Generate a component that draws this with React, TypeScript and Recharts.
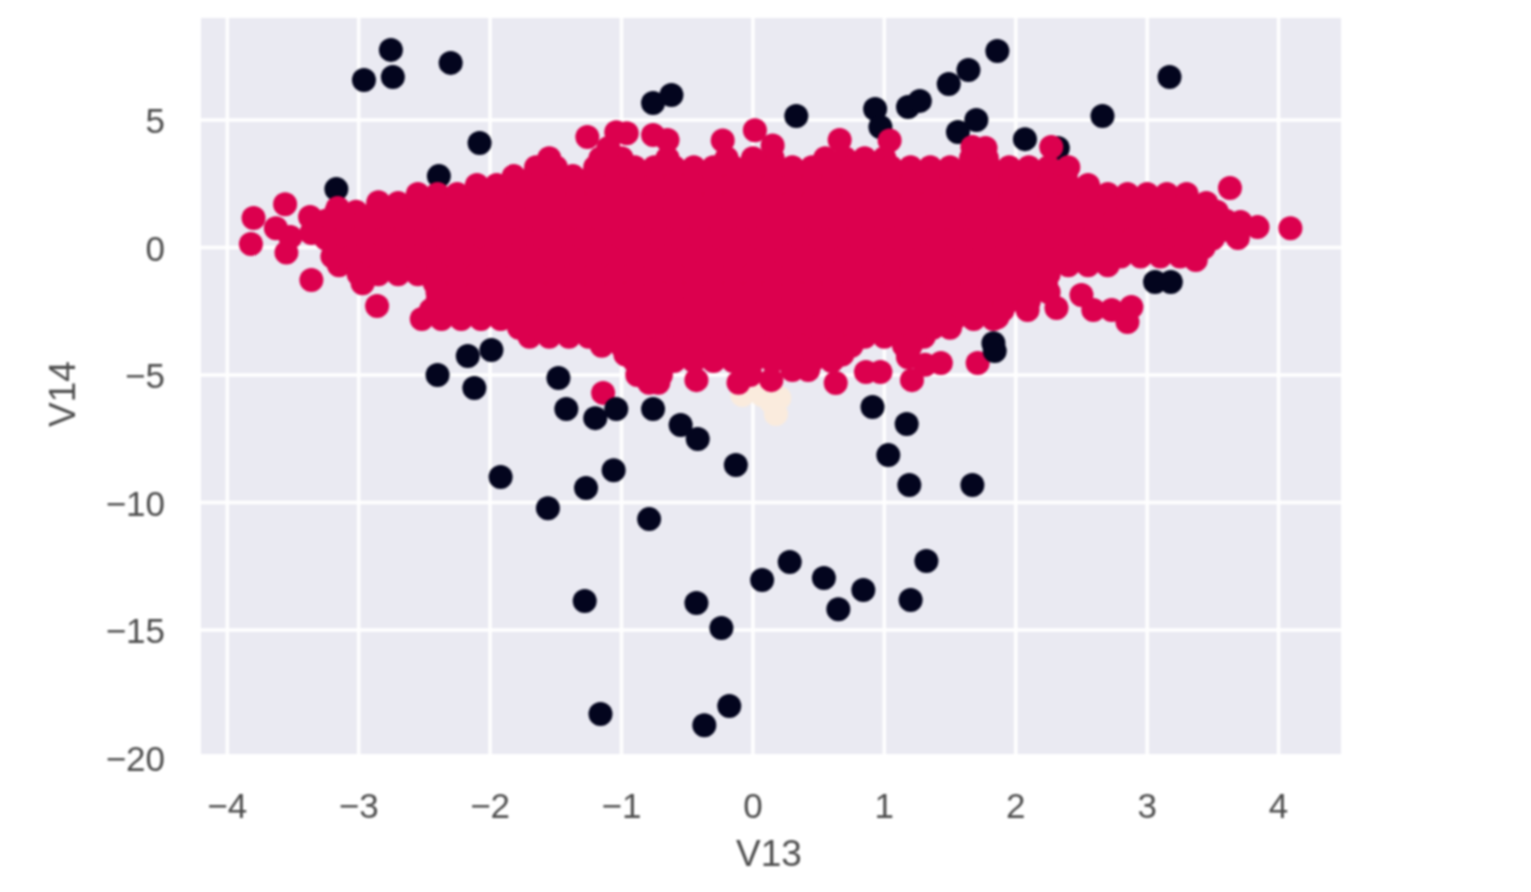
import { ScatterChart, Scatter, XAxis, YAxis, CartesianGrid } from 'recharts';

const xTicks = [-4, -3, -2, -1, 0, 1, 2, 3, 4];
const yTicks = [-20, -15, -10, -5, 0, 5];
const yGridValues = [-15, -10, -5, 0, 5];

const fraudEarly = [
  [-2.755, 7.75], [-2.96, 6.57], [-2.74, 6.69], [-2.3, 7.24], [-0.76, 5.67], [-0.62, 5.98], [0.33, 5.16],
  [0.93, 5.43], [0.97, 4.73], [1.18, 5.51], [1.27, 5.75], [1.49, 6.41], [1.64, 6.96], [1.86, 7.71],
  [3.17, 6.69], [1.56, 4.53], [1.7, 5.0], [2.07, 4.25], [2.32, 3.9], [2.66, 5.16], [-2.08, 4.1],
  [-3.17, 2.29], [-2.39, 2.8], [3.06, -1.35], [3.18, -1.35],
];

const fraudLate = [
  [1.83, -3.75], [1.84, -4.06], [-2.4, -5.0], [-2.17, -4.25], [-1.99, -4.02], [-2.12, -5.51], [-1.48, -5.12],
  [-1.42, -6.33], [-1.2, -6.69], [-1.04, -6.33], [-0.76, -6.33], [-0.55, -6.96], [-0.42, -7.51], [-0.13, -8.53],
  [0.91, -6.25], [1.17, -6.92], [1.03, -8.14], [1.19, -9.31], [1.67, -9.31], [-1.92, -9.0], [-1.06, -8.73],
  [-1.27, -9.43], [-1.56, -10.22], [-0.79, -10.65], [0.07, -13.04], [0.28, -12.33], [0.54, -12.96], [0.84, -13.43],
  [0.65, -14.18], [1.32, -12.29], [1.2, -13.82], [-0.43, -13.94], [-1.28, -13.86], [-0.24, -14.92], [-1.16, -18.29],
  [-0.18, -17.98], [-0.37, -18.73],
];

const creamPoints = [[-0.08, -5.78], [0.07, -5.78], [0.14, -6.06], [0.175, -6.53], [0.2, -5.9]];

// solid red mass, read row by row: [V14, V13 values]
const redRows: [number, number[]][] = [
  [3.5, [-1.55, -1.16, -1.0, -0.65, -0.2, 0, 0.15, 0.55, 0.7, 0.85, 1.0, 1.66, 1.78]],
  [2.8, [-1.82, -1.67, -1.52, -1.37, -1.22, -1.07, -0.92, -0.77, -0.62, -0.47, -0.32, -0.17, -0.02, 0.13, 0.28, 0.43, 0.58, 0.73, 0.88, 1.03, 1.18, 1.33, 1.48, 1.63, 1.78, 1.93, 2.08, 2.23, 2.38]],
  [2.1, [-2.55, -2.4, -2.25, -2.1, -1.95, -1.8, -1.65, -1.5, -1.35, -1.2, -1.05, -0.9, -0.75, -0.6, -0.45, -0.3, -0.15, 0, 0.15, 0.3, 0.45, 0.6, 0.75, 0.9, 1.05, 1.2, 1.35, 1.5, 1.65, 1.8, 1.95, 2.1, 2.25, 2.4, 2.55, 2.7, 2.85, 3.0, 3.15, 3.3]],
  [1.4, [-3.17, -3.02, -2.87, -2.72, -2.57, -2.42, -2.27, -2.12, -1.97, -1.82, -1.67, -1.52, -1.37, -1.22, -1.07, -0.92, -0.77, -0.62, -0.47, -0.32, -0.17, -0.02, 0.13, 0.28, 0.43, 0.58, 0.73, 0.88, 1.03, 1.18, 1.33, 1.48, 1.63, 1.78, 1.93, 2.08, 2.23, 2.38, 2.53, 2.68, 2.83, 2.98, 3.13, 3.28, 3.43, 3.53]],
  [0.7, [-3.3, -3.15, -3.0, -2.85, -2.7, -2.55, -2.4, -2.25, -2.1, -1.95, -1.8, -1.65, -1.5, -1.35, -1.2, -1.05, -0.9, -0.75, -0.6, -0.45, -0.3, -0.15, 0, 0.15, 0.3, 0.45, 0.6, 0.75, 0.9, 1.05, 1.2, 1.35, 1.5, 1.65, 1.8, 1.95, 2.1, 2.25, 2.4, 2.55, 2.7, 2.85, 3.0, 3.15, 3.3, 3.45, 3.6]],
  [0, [-3.17, -3.02, -2.87, -2.72, -2.57, -2.42, -2.27, -2.12, -1.97, -1.82, -1.67, -1.52, -1.37, -1.22, -1.07, -0.92, -0.77, -0.62, -0.47, -0.32, -0.17, -0.02, 0.13, 0.28, 0.43, 0.58, 0.73, 0.88, 1.03, 1.18, 1.33, 1.48, 1.63, 1.78, 1.93, 2.08, 2.23, 2.38, 2.53, 2.68, 2.83, 2.98, 3.13, 3.28, 3.43]],
  [-0.7, [-3.15, -3.0, -2.85, -2.7, -2.55, -2.4, -2.25, -2.1, -1.95, -1.8, -1.65, -1.5, -1.35, -1.2, -1.05, -0.9, -0.75, -0.6, -0.45, -0.3, -0.15, 0, 0.15, 0.3, 0.45, 0.6, 0.75, 0.9, 1.05, 1.2, 1.35, 1.5, 1.65, 1.8, 1.95, 2.1, 2.25, 2.4, 2.55, 2.7]],
  [-1.4, [-2.97, -2.42, -2.27, -2.12, -1.97, -1.82, -1.67, -1.52, -1.37, -1.22, -1.07, -0.92, -0.77, -0.62, -0.47, -0.32, -0.17, -0.02, 0.13, 0.28, 0.43, 0.58, 0.73, 0.88, 1.03, 1.18, 1.33, 1.48, 1.63, 1.78, 1.93, 2.08, 2.23]],
  [-2.1, [-2.4, -2.25, -2.1, -1.95, -1.8, -1.65, -1.5, -1.35, -1.2, -1.05, -0.9, -0.75, -0.6, -0.45, -0.3, -0.15, 0, 0.15, 0.3, 0.45, 0.6, 0.75, 0.9, 1.05, 1.2, 1.35, 1.5, 1.65, 1.8, 1.95, 2.1]],
  [-2.8, [-2.52, -2.37, -2.22, -2.07, -1.92, -1.77, -1.62, -1.47, -1.32, -1.17, -1.02, -0.87, -0.72, -0.57, -0.42, -0.27, -0.12, 0.03, 0.18, 0.33, 0.48, 0.63, 0.78, 0.93, 1.08, 1.23, 1.38, 1.53, 1.68, 1.83]],
  [-3.5, [-1.7, -1.55, -1.4, -1.25, -1.1, -0.95, -0.8, -0.65, -0.5, -0.35, -0.2, -0.05, 0.1, 0.25, 0.4, 0.55, 0.7, 0.85, 1.0, 1.15, 1.3]],
  [-4.2, [-0.97, -0.82, -0.67, -0.52, -0.37, -0.22, -0.07, 0.08, 0.23, 0.38, 0.53, 0.68, 1.18]],
];

// rows between the ones above, they close the gaps in the mass
const redMidRows: [number, number[]][] = [
  [3.15, [-1.65, -1.5, -1.2, -1.05, -0.9, -0.75, -0.6, -0.45, -0.3, -0.15, 0, 0.15, 0.3, 0.45, 0.6, 0.75, 0.9, 1.05, 1.2, 1.35, 1.5, 1.65, 1.8, 1.95, 2.1, 2.25, 2.4]],
  [2.45, [-2.1, -1.95, -1.8, -1.65, -1.5, -1.35, -1.2, -1.05, -0.9, -0.75, -0.6, -0.45, -0.3, -0.15, 0, 0.15, 0.3, 0.45, 0.6, 0.75, 0.9, 1.05, 1.2, 1.35, 1.5, 1.65, 1.8, 1.95, 2.1, 2.25, 2.4, 2.55]],
  [1.75, [-2.85, -2.7, -2.55, -2.4, -2.25, -2.1, -1.95, -1.8, -1.65, -1.5, -1.35, -1.2, -1.05, -0.9, -0.75, -0.6, -0.45, -0.3, -0.15, 0, 0.15, 0.3, 0.45, 0.6, 0.75, 0.9, 1.05, 1.2, 1.35, 1.5, 1.65, 1.8, 1.95, 2.1, 2.25, 2.4, 2.55, 2.7, 2.85, 3.0, 3.15, 3.3, 3.45]],
  [1.05, [-3.25, -3.1, -2.95, -2.8, -2.65, -2.5, -2.35, -2.2, -2.05, -1.9, -1.75, -1.6, -1.45, -1.3, -1.15, -1.0, -0.85, -0.7, -0.55, -0.4, -0.25, -0.1, 0.05, 0.2, 0.35, 0.5, 0.65, 0.8, 0.95, 1.1, 1.25, 1.4, 1.55, 1.7, 1.85, 2.0, 2.15, 2.3, 2.45, 2.6, 2.75, 2.9, 3.05, 3.2, 3.35, 3.5, 3.6]],
  [0.35, [-3.25, -3.1, -2.95, -2.8, -2.65, -2.5, -2.35, -2.2, -2.05, -1.9, -1.75, -1.6, -1.45, -1.3, -1.15, -1.0, -0.85, -0.7, -0.55, -0.4, -0.25, -0.1, 0.05, 0.2, 0.35, 0.5, 0.65, 0.8, 0.95, 1.1, 1.25, 1.4, 1.55, 1.7, 1.85, 2.0, 2.15, 2.3, 2.45, 2.6, 2.75, 2.9, 3.05, 3.2, 3.35, 3.5]],
  [-0.35, [-3.2, -3.05, -2.9, -2.75, -2.6, -2.45, -2.3, -2.15, -2.0, -1.85, -1.7, -1.55, -1.4, -1.25, -1.1, -0.95, -0.8, -0.65, -0.5, -0.35, -0.2, -0.05, 0.1, 0.25, 0.4, 0.55, 0.7, 0.85, 1.0, 1.15, 1.3, 1.45, 1.6, 1.75, 1.9, 2.05, 2.2, 2.35, 2.5, 2.65, 2.8, 2.95, 3.1, 3.25]],
  [-1.05, [-3.0, -2.85, -2.7, -2.55, -2.4, -2.25, -2.1, -1.95, -1.8, -1.65, -1.5, -1.35, -1.2, -1.05, -0.9, -0.75, -0.6, -0.45, -0.3, -0.15, 0, 0.15, 0.3, 0.45, 0.6, 0.75, 0.9, 1.05, 1.2, 1.35, 1.5, 1.65, 1.8, 1.95, 2.1, 2.25]],
  [-1.75, [-2.4, -2.25, -2.1, -1.95, -1.8, -1.65, -1.5, -1.35, -1.2, -1.05, -0.9, -0.75, -0.6, -0.45, -0.3, -0.15, 0, 0.15, 0.3, 0.45, 0.6, 0.75, 0.9, 1.05, 1.2, 1.35, 1.5, 1.65, 1.8, 1.95, 2.1, 2.25]],
  [-2.45, [-2.45, -2.3, -2.15, -2.0, -1.85, -1.7, -1.55, -1.4, -1.25, -1.1, -0.95, -0.8, -0.65, -0.5, -0.35, -0.2, -0.05, 0.1, 0.25, 0.4, 0.55, 0.7, 0.85, 1.0, 1.15, 1.3, 1.45, 1.6, 1.75, 1.9]],
  [-3.15, [-1.78, -1.63, -1.48, -1.33, -1.18, -1.03, -0.88, -0.73, -0.58, -0.43, -0.28, -0.13, 0.02, 0.17, 0.32, 0.47, 0.62, 0.77, 0.92, 1.07, 1.22, 1.37, 1.5]],
  [-3.85, [-1.15, -1.0, -0.85, -0.7, -0.55, -0.4, -0.25, -0.1, 0.05, 0.2, 0.35, 0.5, 0.65, 0.75, 1.15, 1.2]],
  [-4.45, [-0.9, -0.75, -0.6, -0.45, -0.3, -0.15, 0, 0.15, 0.3, 0.45, 0.6]],
];

const redEdge = [
  [-3.8, 1.16], [-3.56, 1.7], [-3.82, 0.14], [-3.63, 0.76], [-3.55, -0.2], [-3.52, 0.41], [-3.36, -1.27], [-2.86, -2.29],
  [-3.37, 1.2], [-3.36, 0.57], [-1.14, -5.7], [3.71, 1.0], [3.84, 0.8], [4.09, 0.76], [3.69, 0.37], [3.63, 2.33], [3.37, -0.49],
  [2.5, -1.86], [2.59, -2.45], [2.73, -2.45], [2.85, -2.92], [2.88, -2.33], [2.31, -2.37], [2.09, -2.45], [1.86, -2.73],
  [1.71, -4.53], [1.43, -4.53], [1.31, -4.6], [1.21, -5.2], [0.86, -4.88], [0.97, -4.88], [0.63, -5.31], [1.18, -4.3],
  [-0.88, -5.0], [-0.72, -5.3], [-0.79, -5.3], [-0.7, -5.0], [-0.43, -5.2], [-0.11, -5.3], [-0.02, -5.0], [0.14, -5.2], [0.3, -4.8], [0.42, -4.8],
  [-1.26, 4.33], [-1.04, 4.52], [-0.96, 4.48], [-0.76, 4.41], [-0.65, 4.22], [-0.23, 4.2], [0.015, 4.6], [0.15, 4.0],
  [0.66, 4.22], [1.04, 4.2], [1.67, 3.94], [1.77, 3.9], [2.27, 3.94], [-1.1, 3.9], [-3.16, 1.55], [-2.85, 1.78], [-2.1, 2.4],
];

const toPoints = (pairs: number[][]) => pairs.map(([v13, v14]) => ({ v13, v14 }));
const redPoints = [
  ...[...redRows, ...redMidRows].flatMap(([v14, xs]) => xs.map((v13) => ({ v13, v14 }))),
  ...toPoints(redEdge),
];

const minus = (v: number) => String(v).replace('-', '\u2212');
const tickStyle = { fill: '#4d4d4d', fontSize: 35, fontFamily: 'Liberation Sans' };
const Dot = (p: any) => <circle cx={p.cx} cy={p.cy} r={12} fill={p.fill} />;

export default function App() {
  return (
    <div style={{ position: 'absolute', left: 0, top: 0, width: 1531, height: 892, filter: 'blur(0.9px)' }}>
      <ScatterChart width={1531} height={892} margin={{ top: 18, right: 190, bottom: 78, left: 101 }}>
        <CartesianGrid fill="#EAEAF2" fillOpacity={1} stroke="#ffffff" strokeWidth={3.5} horizontalValues={yGridValues} verticalValues={xTicks} />
        <XAxis
          type="number"
          dataKey="v13"
          domain={[-4.2, 4.475]}
          ticks={xTicks}
          interval={0}
          allowDataOverflow
          height={60}
          axisLine={false}
          tickLine={false}
          tickSize={0}
          tickMargin={39}
          tick={tickStyle}
          tickFormatter={minus}
          label={{ value: 'V13', position: 'insideBottom', offset: -52, dx: -2, ...tickStyle, fontSize: 37 }}
        />
        <YAxis
          type="number"
          dataKey="v14"
          domain={[-19.86, 9]}
          ticks={yTicks}
          interval={0}
          allowDataOverflow
          width={100}
          axisLine={false}
          tickLine={false}
          tickSize={0}
          tickMargin={36}
          tick={{ ...tickStyle, dy: 1 }}
          tickFormatter={minus}
          label={{ value: 'V14', angle: -90, position: 'insideLeft', dx: -44, dy: 41, ...tickStyle, fontSize: 37 }}
        />
        <Scatter data={toPoints(fraudEarly)} fill="#03051E" shape={Dot} isAnimationActive={false} />
        <Scatter data={toPoints(creamPoints)} fill="#FAEBDD" shape={Dot} isAnimationActive={false} />
        <Scatter data={redPoints} fill="#DC004E" shape={Dot} isAnimationActive={false} />
        <Scatter data={toPoints(fraudLate)} fill="#03051E" shape={Dot} isAnimationActive={false} />
      </ScatterChart>
    </div>
  );
}
